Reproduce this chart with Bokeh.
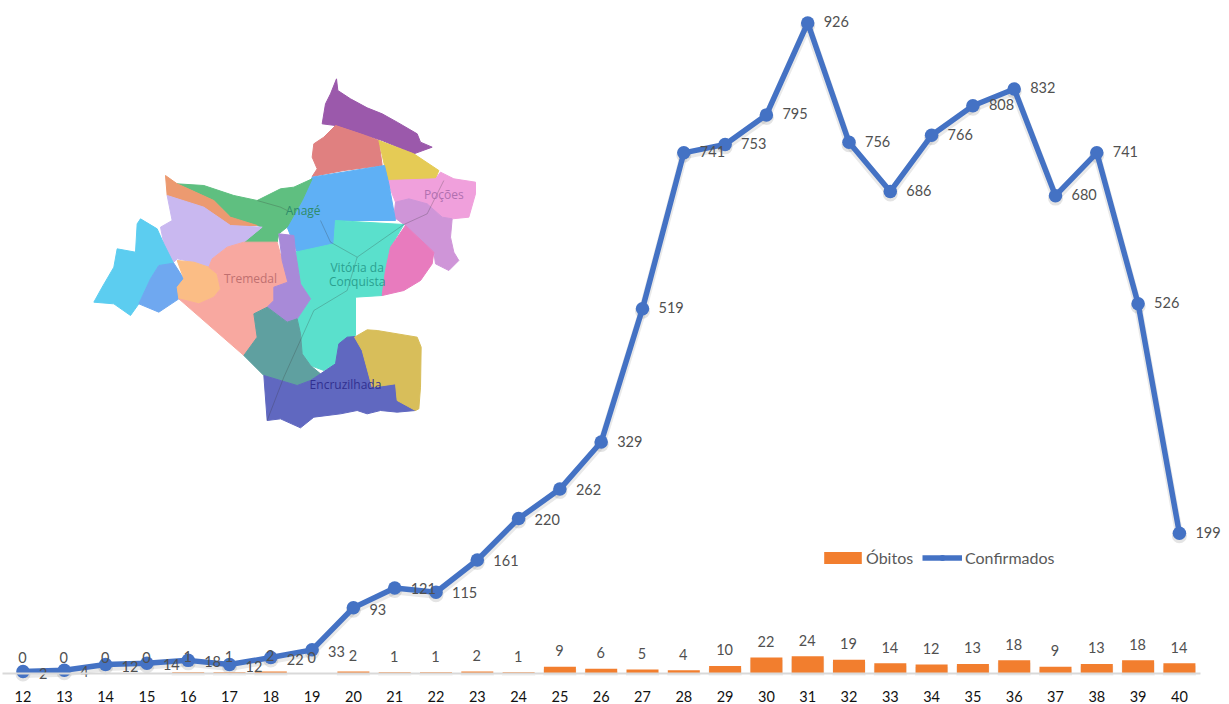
from bokeh.plotting import figure
from bokeh.models import (ColumnDataSource, FixedTicker, Legend, LegendItem, Range1d)
from bokeh.core.properties import value
from bokeh.embed import file_html
from bokeh.resources import INLINE

weeks = list(range(12, 41))
confirmados = [2, 4, 12, 14, 18, 12, 22, 33, 93, 121, 115, 161, 220, 262, 329, 519,
               741, 753, 795, 926, 756, 686, 766, 808, 832, 680, 741, 526, 199]
obitos = [0, 0, 0, 0, 1, 1, 2, 0, 2, 1, 1, 2, 1, 9, 6, 5, 4, 10, 22, 24, 19, 14, 12,
          13, 18, 9, 13, 18, 14]
# vertical nudge of each "Confirmados" label, in pixels
conf_label_dy = [1.5] * 9 + [0.5] * 5 + [-1] * 15

# The map is a picture pasted on the chart; outlines are traced in its own 3x pixel grid.
map_regions = [
    ("#9B59AB", [(768,25),(772,60),(810,85),(860,112),(905,130),(950,155),(1010,190),(1020,215),(1055,230),(1000,250),(905,210),(840,190),(765,165),(725,160),(735,100),(750,70)]),
    ("#E08080", [(765,165),(840,190),(895,210),(905,285),(790,300),(695,318),(710,295),(695,260),(700,220),(730,200)]),
    ("#E5CB55", [(895,210),(1000,250),(1075,300),(1065,325),(920,330),(912,285)]),
    ("#F0A0DC", [(920,330),(1065,325),(1080,305),(1120,325),(1185,335),(1185,370),(1165,440),(1115,445),(1085,440),(1040,400),(985,385),(945,395),(935,370)]),
    ("#CF95D8", [(945,395),(985,385),(1040,400),(1085,440),(1115,445),(1110,500),(1120,545),(1135,570),(1105,600),(1065,580),(1060,545),(975,465),(940,440)]),
    ("#5FB0F5", [(695,320),(912,285),(925,340),(945,450),(765,450),(760,520),(650,545),(620,470),(665,390)]),
    ("#5AE0CC", [(765,450),(970,462),(930,530),(915,600),(905,675),(825,680),(825,795),(775,820),(765,880),(730,900),(690,885),(665,850),(660,790),(650,745),(690,685),(660,640),(645,545),(760,520)]),
    ("#E87BBE", [(975,465),(1060,545),(1055,580),(1020,630),(970,660),(905,675),(915,600),(930,530)]),
    ("#5FBF80", [(290,340),(370,345),(460,375),(530,390),(600,355),(640,350),(695,325),(665,390),(620,470),(595,490),(590,515),(535,520),(490,515),(545,470),(530,465),(450,440),(400,390)]),
    ("#EC9A70", [(255,315),(290,340),(400,390),(450,440),(530,465),(450,465),(370,410),(260,375)]),
    ("#C9B8F0", [(260,375),(370,410),(450,465),(545,470),(490,515),(440,530),(395,565),(385,590),(340,575),(290,565),(275,580),(250,520),(240,470),(275,450)]),
    ("#5CCDF0", [(170,460),(180,445),(230,475),(250,520),(280,580),(235,585),(210,625),(175,700),(150,735),(100,700),(40,695),(65,650),(100,590),(110,535),(165,545)]),
    ("#6FA8F0", [(235,585),(280,578),(310,625),(290,650),(295,685),(235,725),(175,700),(210,625)]),
    ("#FBBD85", [(290,570),(340,575),(385,590),(410,610),(420,655),(400,680),(355,700),(295,685),(290,650),(310,625)]),
    ("#F8A8A0", [(395,565),(440,530),(490,515),(590,515),(605,570),(622,635),(580,650),(580,690),(560,710),(520,730),(530,800),(490,855),(295,685),(355,700),(400,680),(420,655),(410,610),(385,590)]),
    ("#A88AD8", [(595,490),(640,495),(645,545),(660,640),(690,685),(650,745),(620,755),(560,710),(580,690),(580,650),(622,635),(605,570)]),
    ("#5FA0A0", [(520,730),(560,710),(620,755),(650,745),(660,790),(665,850),(690,885),(720,910),(690,930),(650,945),(550,915),(490,855),(530,800)]),
    ("#6068C0", [(550,915),(650,945),(690,930),(720,910),(765,880),(775,820),(800,800),(825,798),(845,840),(875,950),(945,940),(950,990),(1005,1020),(950,1025),(900,1020),(860,1030),(830,1020),(780,1030),(700,1040),(660,1072),(600,1045),(560,1050)]),
    ("#D8BE5A", [(822,800),(860,778),(890,780),(1010,800),(1022,830),(1020,950),(1015,1015),(1005,1020),(950,990),(945,940),(875,950),(845,840)]),
]
map_roads = [
    [(530,390),(600,410),(620,420)],
    [(720,450),(750,515),(830,560)],
    [(830,560),(970,462),(1040,430),(1090,330)],
    [(830,560),(800,660),(700,720),(610,920),(560,1050)],
]
map_labels = [
    ("Anagé", 668, 420, "#2E8B6A"),
    ("Poções", 1090, 372, "#B070B0"),
    ("Tremedal", 510, 623, "#C07070"),
    ("Vitória da", 830, 590, "#2AA090"),
    ("Conquista", 830, 632, "#2AA090"),
    ("Encruzilhada", 795, 943, "#303090"),
]

W, H = 1229, 704
FONT = "Lato"
BLUE = "#4472C4"
ORANGE = "#F27E2E"
LABEL = "#505050"

p = figure(width=W, height=H, x_range=(11.455, 41.213), y_range=(-44.87, 958),
           output_backend="svg", toolbar_location=None, min_border=0,
           y_axis_location=None, outline_line_color=None,
           background_fill_color="white", border_fill_color="white")
p.grid.visible = False

xa = p.xaxis[0]
xa.fixed_location = 0
xa.bounds = (11.5, 40.5)
xa.ticker = FixedTicker(ticks=weeks)
xa.major_tick_line_color = None
xa.minor_tick_line_color = None
xa.axis_line_color = "#D9D9D9"
xa.axis_line_width = 2
xa.major_label_standoff = 12
xa.major_label_text_font = FONT
xa.major_label_text_font_size = "14.5px"
xa.major_label_text_color = "#111111"

# map, in its own pixel grid
p.extra_x_ranges["map"] = Range1d(-240, 3447)
p.extra_y_ranges["map"] = Range1d(1902, -210)
p.patches([[q[0] for q in r[1]] for r in map_regions],
          [[q[1] for q in r[1]] for r in map_regions],
          fill_color=[r[0] for r in map_regions], line_color=[r[0] for r in map_regions],
          line_width=1, line_join="round", x_range_name="map", y_range_name="map")
p.multi_line([[q[0] for q in r] for r in map_roads], [[q[1] for q in r] for r in map_roads],
             line_color="#333333", line_alpha=0.25, line_width=1,
             x_range_name="map", y_range_name="map")
p.text([m[1] for m in map_labels], [m[2] for m in map_labels], text=[m[0] for m in map_labels],
       text_color=[m[3] for m in map_labels], text_font=value("Open Sans"), text_font_size="12px",
       text_align="center", text_baseline="middle", x_range_name="map", y_range_name="map")

src = ColumnDataSource(dict(week=weeks, conf=confirmados, ob=obitos, dy=conf_label_dy,
                            conf_t=[str(v) for v in confirmados],
                            ob_t=[str(v) for v in obitos]))

# soft drop shadow: the same data on a value range moved about 2.5px down
p.extra_y_ranges["shadow"] = Range1d(-44.87 + 3.5, 958 + 3.5)
p.vbar(x="week", top="ob", bottom=0, width=0.8, source=src, fill_color="#999999", fill_alpha=0.18,
       line_color=None, y_range_name="shadow")
p.line("week", "conf", source=src, line_color="#777777", line_alpha=0.16, line_width=8,
       line_join="round", y_range_name="shadow")
p.scatter("week", "conf", source=src, marker="circle", size=15, fill_color="#777777", fill_alpha=0.2,
          line_color=None, y_range_name="shadow")

bars = p.vbar(x="week", top="ob", bottom=0, width=0.775, source=src, fill_color=ORANGE, line_color=None)
line = p.line("week", "conf", source=src, line_color=BLUE, line_width=5.5, line_join="round")
dots = p.scatter("week", "conf", source=src, marker="circle", size=13.5, fill_color=BLUE, line_color=None)

p.text("week", "conf", text="conf_t", source=src, x_offset=16, y_offset="dy",
       text_align="left", text_baseline="middle", text_font=value(FONT),
       text_font_size="14.5px", text_color=LABEL)
p.text("week", "ob", text="ob_t", source=src, y_offset=-16, x_offset=-0.5,
       text_align="center", text_baseline="middle", text_font=value(FONT),
       text_font_size="14.5px", text_color=LABEL)

common = dict(orientation="horizontal", background_fill_alpha=0, border_line_color=None,
              padding=0, margin=0, glyph_height=15, label_text_font=FONT,
              label_text_font_size="16px", label_text_color="#595959")
p.add_layout(Legend(items=[LegendItem(label="Óbitos", renderers=[bars])],
                    location=(819, 137), glyph_width=47, label_standoff=0, **common), "center")
p.add_layout(Legend(items=[LegendItem(label="Confirmados", renderers=[line, dots])],
                    location=(922, 137), glyph_width=40, label_standoff=3, **common), "center")

open("out.html", "w").write(file_html(p, INLINE))
